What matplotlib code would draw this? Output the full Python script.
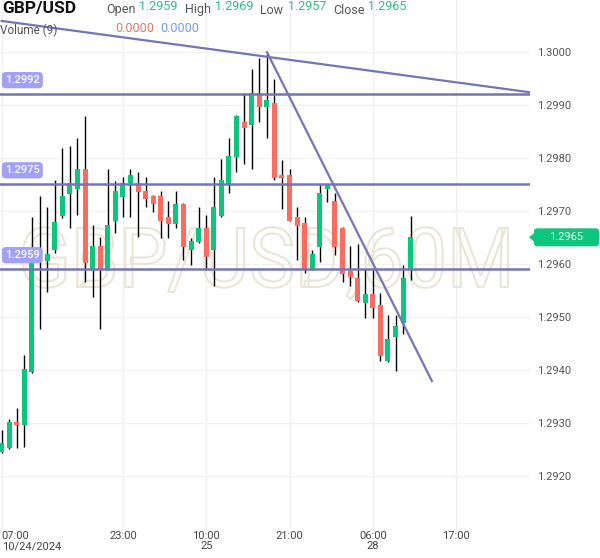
import numpy as np
import matplotlib
matplotlib.use('Agg')
import matplotlib.pyplot as plt
import matplotlib.transforms as mtransforms
from matplotlib.textpath import TextPath
from matplotlib.patches import PathPatch, FancyBboxPatch, Polygon
from matplotlib.font_manager import FontProperties

plt.rcParams['font.family'] = ['Roboto', 'DejaVu Sans']

# GBP/USD 60M candles, 10/24/2024 07:00 onwards
opens = [1.29246, 1.29252, 1.29302, 1.29297, 1.29397, 1.29604, 1.29606, 1.29626, 1.29690, 1.29732,
         1.29741, 1.29779, 1.29590, 1.29634, 1.29590, 1.29681, 1.29727, 1.29752, 1.29752, 1.29737,
         1.29728, 1.29728, 1.29688, 1.29676, 1.29712, 1.29627, 1.29642, 1.29668, 1.29627, 1.29691,
         1.29750, 1.29802, 1.29867, 1.29862, 1.29923, 1.29896, 1.29904, 1.29768, 1.29768, 1.29688,
         1.29677, 1.29590, 1.29632, 1.29742, 1.29719, 1.29668, 1.29587, 1.29574, 1.29527, 1.29543,
         1.29522, 1.29416, 1.29462, 1.29488, 1.29590]
closes = [1.29263, 1.29302, 1.29297, 1.29402, 1.29604, 1.29612, 1.29619, 1.29678, 1.29728, 1.29753,
          1.29779, 1.29602, 1.29634, 1.29590, 1.29673, 1.29737, 1.29752, 1.29767, 1.29736, 1.29722,
          1.29712, 1.29681, 1.29676, 1.29712, 1.29632, 1.29643, 1.29667, 1.29613, 1.29707, 1.29758,
          1.29803, 1.29879, 1.29857, 1.29923, 1.29896, 1.29909, 1.29762, 1.29762, 1.29681, 1.29672,
          1.29591, 1.29619, 1.29734, 1.29749, 1.29632, 1.29581, 1.29576, 1.29530, 1.29543, 1.29517,
          1.29426, 1.29458, 1.29483, 1.29574, 1.29650]
highs = [1.29287, 1.29307, 1.29328, 1.29428, 1.29688, 1.29728, 1.29707, 1.29758, 1.29818, 1.29822,
         1.29837, 1.29879, 1.29673, 1.29650, 1.29778, 1.29757, 1.29763, 1.29778, 1.29773, 1.29763,
         1.29730, 1.29737, 1.29719, 1.29737, 1.29714, 1.29648, 1.29707, 1.29692, 1.29763, 1.29797,
         1.29837, 1.29880, 1.29923, 1.29967, 1.29988, 1.29995, 1.29949, 1.29796, 1.29778, 1.29707,
         1.29688, 1.29627, 1.29749, 1.29750, 1.29733, 1.29670, 1.29634, 1.29637, 1.29590, 1.29590,
         1.29545, 1.29504, 1.29504, 1.29598, 1.29690]
lows = [1.29244, 1.29250, 1.29252, 1.29255, 1.29395, 1.29477, 1.29546, 1.29620, 1.29686, 1.29667,
        1.29692, 1.29566, 1.29537, 1.29477, 1.29588, 1.29658, 1.29688, 1.29688, 1.29651, 1.29707,
        1.29698, 1.29648, 1.29648, 1.29667, 1.29607, 1.29598, 1.29640, 1.29588, 1.29559, 1.29689,
        1.29733, 1.29773, 1.29788, 1.29778, 1.29867, 1.29837, 1.29758, 1.29703, 1.29680, 1.29607,
        1.29582, 1.29589, 1.29603, 1.29717, 1.29617, 1.29566, 1.29558, 1.29528, 1.29497, 1.29497,
        1.29416, 1.29415, 1.29398, 1.29468, 1.29570]

tick_idx = [0, 16, 27, 38, 49, 60]
tick_labels = ['07:00\n10/24/2024', '23:00', '10:00\n25', '21:00', '06:00\n28', '17:00']
price_ticks = [1.2920, 1.2930, 1.2940, 1.2950, 1.2960, 1.2970, 1.2980, 1.2990, 1.3000]

levels = [1.2992, 1.2975, 1.2959]
# drawn trend lines: (bar index, price) anchors
trend_top = ([0, 70], [1.30058, 1.29923])
trend_down = ([35.03, 56.8], [1.29999, 1.29379])

GREEN = '#0bc67c'
RED = '#fc6b5f'
LINE = '#7474b8'

o = np.array(opens); c = np.array(closes)
h = np.array(highs); l = np.array(lows)
x = np.arange(len(o))

fig = plt.figure(figsize=(6, 5.58), dpi=100)
ax = fig.add_axes([0, 28 / 558, 530 / 600, 530 / 558])
ax.set_xlim(-0.224, 69.75)
ax.set_ylim(1.290982, 1.300975)

for s in ax.spines.values():
    s.set_visible(False)

# grid
for p in price_ticks:
    ax.axhline(p, color='#f1f1f1', lw=1, zorder=0)
for t in tick_idx:
    ax.axvline(t, color='#f1f1f1', lw=1, zorder=0)

# watermark (outlined text)
fp = FontProperties(family='Roboto')
tp = TextPath((0, 0), 'GBP/USD,60M', size=1, prop=fp)
bb = tp.get_extents()
cap = 0.711
wx0, wx1 = (23 - 1.7) / 7.574, (508 - 1.7) / 7.574
wy0 = 1.3 - (287 - 51.7) / 53040
wy1 = 1.3 - (228 - 51.7) / 53040
tr = (mtransforms.Affine2D().translate(-bb.x0, 0)
      .scale((wx1 - wx0) / bb.width, (wy1 - wy0) / cap)
      .translate(wx0, wy0) + ax.transData)
ax.add_patch(PathPatch(tp, facecolor='none', edgecolor='#ebe5d6', lw=1.5,
                       transform=tr, zorder=0.5))

# candles
up = c >= o
cols = np.where(up, GREEN, RED)
ax.vlines(x, l, h, color='black', lw=1, zorder=2)
ax.bar(x, np.maximum(np.abs(c - o), 0.00004), bottom=np.minimum(o, c),
       width=0.66, color=cols, linewidth=0, zorder=3)

# horizontal levels
blend = mtransforms.blended_transform_factory(ax.transAxes, ax.transData)
for lv in levels:
    ax.axhline(lv, color=LINE, lw=1.8, zorder=4)
    ax.annotate(f'{lv:.4f}', xy=(0, lv), xycoords=blend, xytext=(5, 14),
                textcoords='offset pixels', ha='left', va='center',
                color='white', fontsize=8, fontweight='medium', zorder=6,
                bbox=dict(boxstyle='round,pad=0.28,rounding_size=0.35',
                          fc='#a1a1fb', ec='none'))

ax.plot(trend_top[0], trend_top[1], color=LINE, lw=1.6, zorder=4)
ax.plot(trend_down[0], trend_down[1], color=LINE, lw=1.6, zorder=4)

# axes ticks
ax.yaxis.tick_right()
ax.set_yticks(price_ticks)
ax.set_yticklabels([f'{p:.4f}' for p in price_ticks])
ax.tick_params(axis='y', length=0, pad=5, labelsize=8, labelcolor='#555555')
ax.set_xticks(tick_idx)
ax.set_xticklabels(tick_labels)
ax.tick_params(axis='x', length=0, pad=1, labelsize=8, labelcolor='#444444')
for i, lbl in enumerate(ax.get_xticklabels()):
    lbl.set_linespacing(1.0)
    if i == 0:
        lbl.set_ha('left')
        lbl.set_multialignment('left')
    else:
        lbl.set_multialignment('center')

# last price tag on the right axis
fig.canvas.draw()
ylast = ax.transData.transform((0, closes[-1]))[1]
idt = mtransforms.IdentityTransform()
fig.patches.append(FancyBboxPatch((534, ylast - 9), 65, 18,
                                  boxstyle='round,pad=0,rounding_size=3',
                                  fc=GREEN, ec='none', transform=idt, figure=fig))
fig.patches.append(Polygon([(529, ylast), (535, ylast + 5), (535, ylast - 5)],
                           closed=True, fc=GREEN, ec='none', transform=idt, figure=fig))
fig.text(566 / 600, ylast / 558, f'{closes[-1]:.4f}', color='white', fontsize=8,
         ha='center', va='center')

# header
fig.text(2 / 600, 1 - 9 / 558, 'GBP/USD', fontsize=12.5, fontweight='bold',
         color='#111111', va='center')
hdr_names = ['Open', 'High', 'Low', 'Close']
hdr_vals = [opens[-1], highs[-1], lows[-1], closes[-1]]
name_px = [106, 185, 260, 333]
val_px = [139, 215, 288, 368]
for name, val, nx, vx in zip(hdr_names, hdr_vals, name_px, val_px):
    fig.text(nx / 600, 1 - 10 / 558, name, fontsize=9, color='#555555', va='center')
    fig.text(vx / 600, 1 - 7 / 558, f'{val:.4f}', fontsize=9, color='#2dbd85', va='center')
fig.text(0, 1 - 30 / 558, 'Volume (9)', fontsize=8.5, color='#555555', va='center')
fig.text(115 / 600, 1 - 29 / 558, '0.0000', fontsize=9, color='#e57368', va='center')
fig.text(160 / 600, 1 - 29 / 558, '0.0000', fontsize=9, color='#6f9bf7', va='center')

fig.savefig('out.png', dpi=100)
